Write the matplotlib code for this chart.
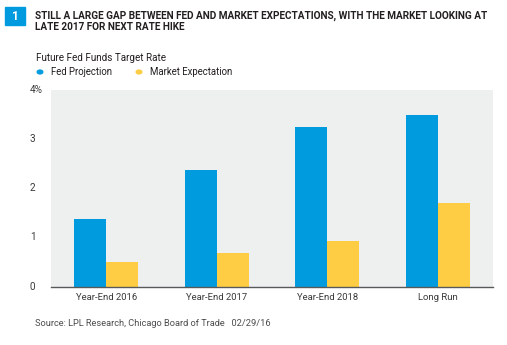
import matplotlib
matplotlib.use("Agg")
import matplotlib.pyplot as plt
from matplotlib.patches import Rectangle, Circle
from matplotlib.transforms import blended_transform_factory

plt.rcParams['font.family'] = ['Roboto', 'DejaVu Sans']

categories = ['Year-End 2016', 'Year-End 2017', 'Year-End 2018', 'Long Run']
fed_projection = [1.375, 2.375, 3.25, 3.5]
market_expectation = [0.50, 0.69, 0.93, 1.69]
y_ticks = [0, 1, 2, 3, 4]
y_tick_labels = ['0', '1', '2', '3', '4%']

blue = '#009bde'
yellow = '#ffcd44'
dark = '#231f20'
grey_text = '#3a3a3c'

W, H = 507, 345
fig = plt.figure(figsize=(W / 100, H / 100), dpi=100)


def fx(px):
    return px / W


def fy(py):
    return 1 - py / H


# header: numbered box and bold title
fig.patches.append(Rectangle((fx(5), fy(25)), fx(20), 18 / H,
                             transform=fig.transFigure, color=blue))
fig.text(fx(15), fy(16.5), '1', color='white', fontsize=8.5,
         fontweight='bold', ha='center', va='center')
fig.text(fx(35), fy(15.5),
         'STILL A LARGE GAP BETWEEN FED AND MARKET EXPECTATIONS, WITH THE MARKET LOOKING AT',
         fontsize=7.2, fontweight='bold', color=dark, va='center')
fig.text(fx(35), fy(27.5), 'LATE 2017 FOR NEXT RATE HIKE',
         fontsize=7.2, fontweight='bold', color=dark, va='center')

fig.text(fx(36), fy(58), 'Future Fed Funds Target Rate',
         fontsize=7.1, color=dark, va='center')

# legend dots
fig.patches.append(Circle((fx(40), fy(72)), 2.8 / W,
                          transform=fig.transFigure, color=blue))
fig.text(fx(51), fy(72), 'Fed Projection', fontsize=6.9,
         color=dark, va='center')
fig.patches.append(Circle((fx(139), fy(72)), 2.8 / W,
                          transform=fig.transFigure, color=yellow))
fig.text(fx(150), fy(72), 'Market Expectation', fontsize=6.9,
         color=dark, va='center')

ax = fig.add_axes([fx(51), fy(286.5), 442 / W, 196.5 / H])
ax.set_facecolor('#eeefef')

x = range(len(categories))
width = 0.29
ax.bar([i - width / 2 for i in x], fed_projection, width, color=blue)
ax.bar([i + width / 2 for i in x], market_expectation, width, color=yellow)

ax.set_xlim(-0.5, 3.5)
ax.set_ylim(0, 4)
for side in ['top', 'right', 'left']:
    ax.spines[side].set_visible(False)
ax.spines['bottom'].set_color('#58595b')
ax.spines['bottom'].set_linewidth(1.0)

ax.set_xticks(list(x))
ax.set_xticklabels(categories, fontsize=6.8, color=grey_text)
ax.tick_params(axis='x', length=0, pad=4.5)
ax.set_yticks([])

# y labels are left-aligned outside the plot
ylab_trans = blended_transform_factory(fig.transFigure, ax.transData)
for v, lab in zip(y_ticks, y_tick_labels):
    ax.text(fx(30), v, lab, transform=ylab_trans, fontsize=7.2,
            color=grey_text, ha='left', va='center')

fig.text(fx(35), fy(323.5),
         'Source: LPL Research, Chicago Board of Trade   02/29/16',
         fontsize=6.7, color='#4d4d4f', va='center')

fig.savefig('out.png', dpi=100)
